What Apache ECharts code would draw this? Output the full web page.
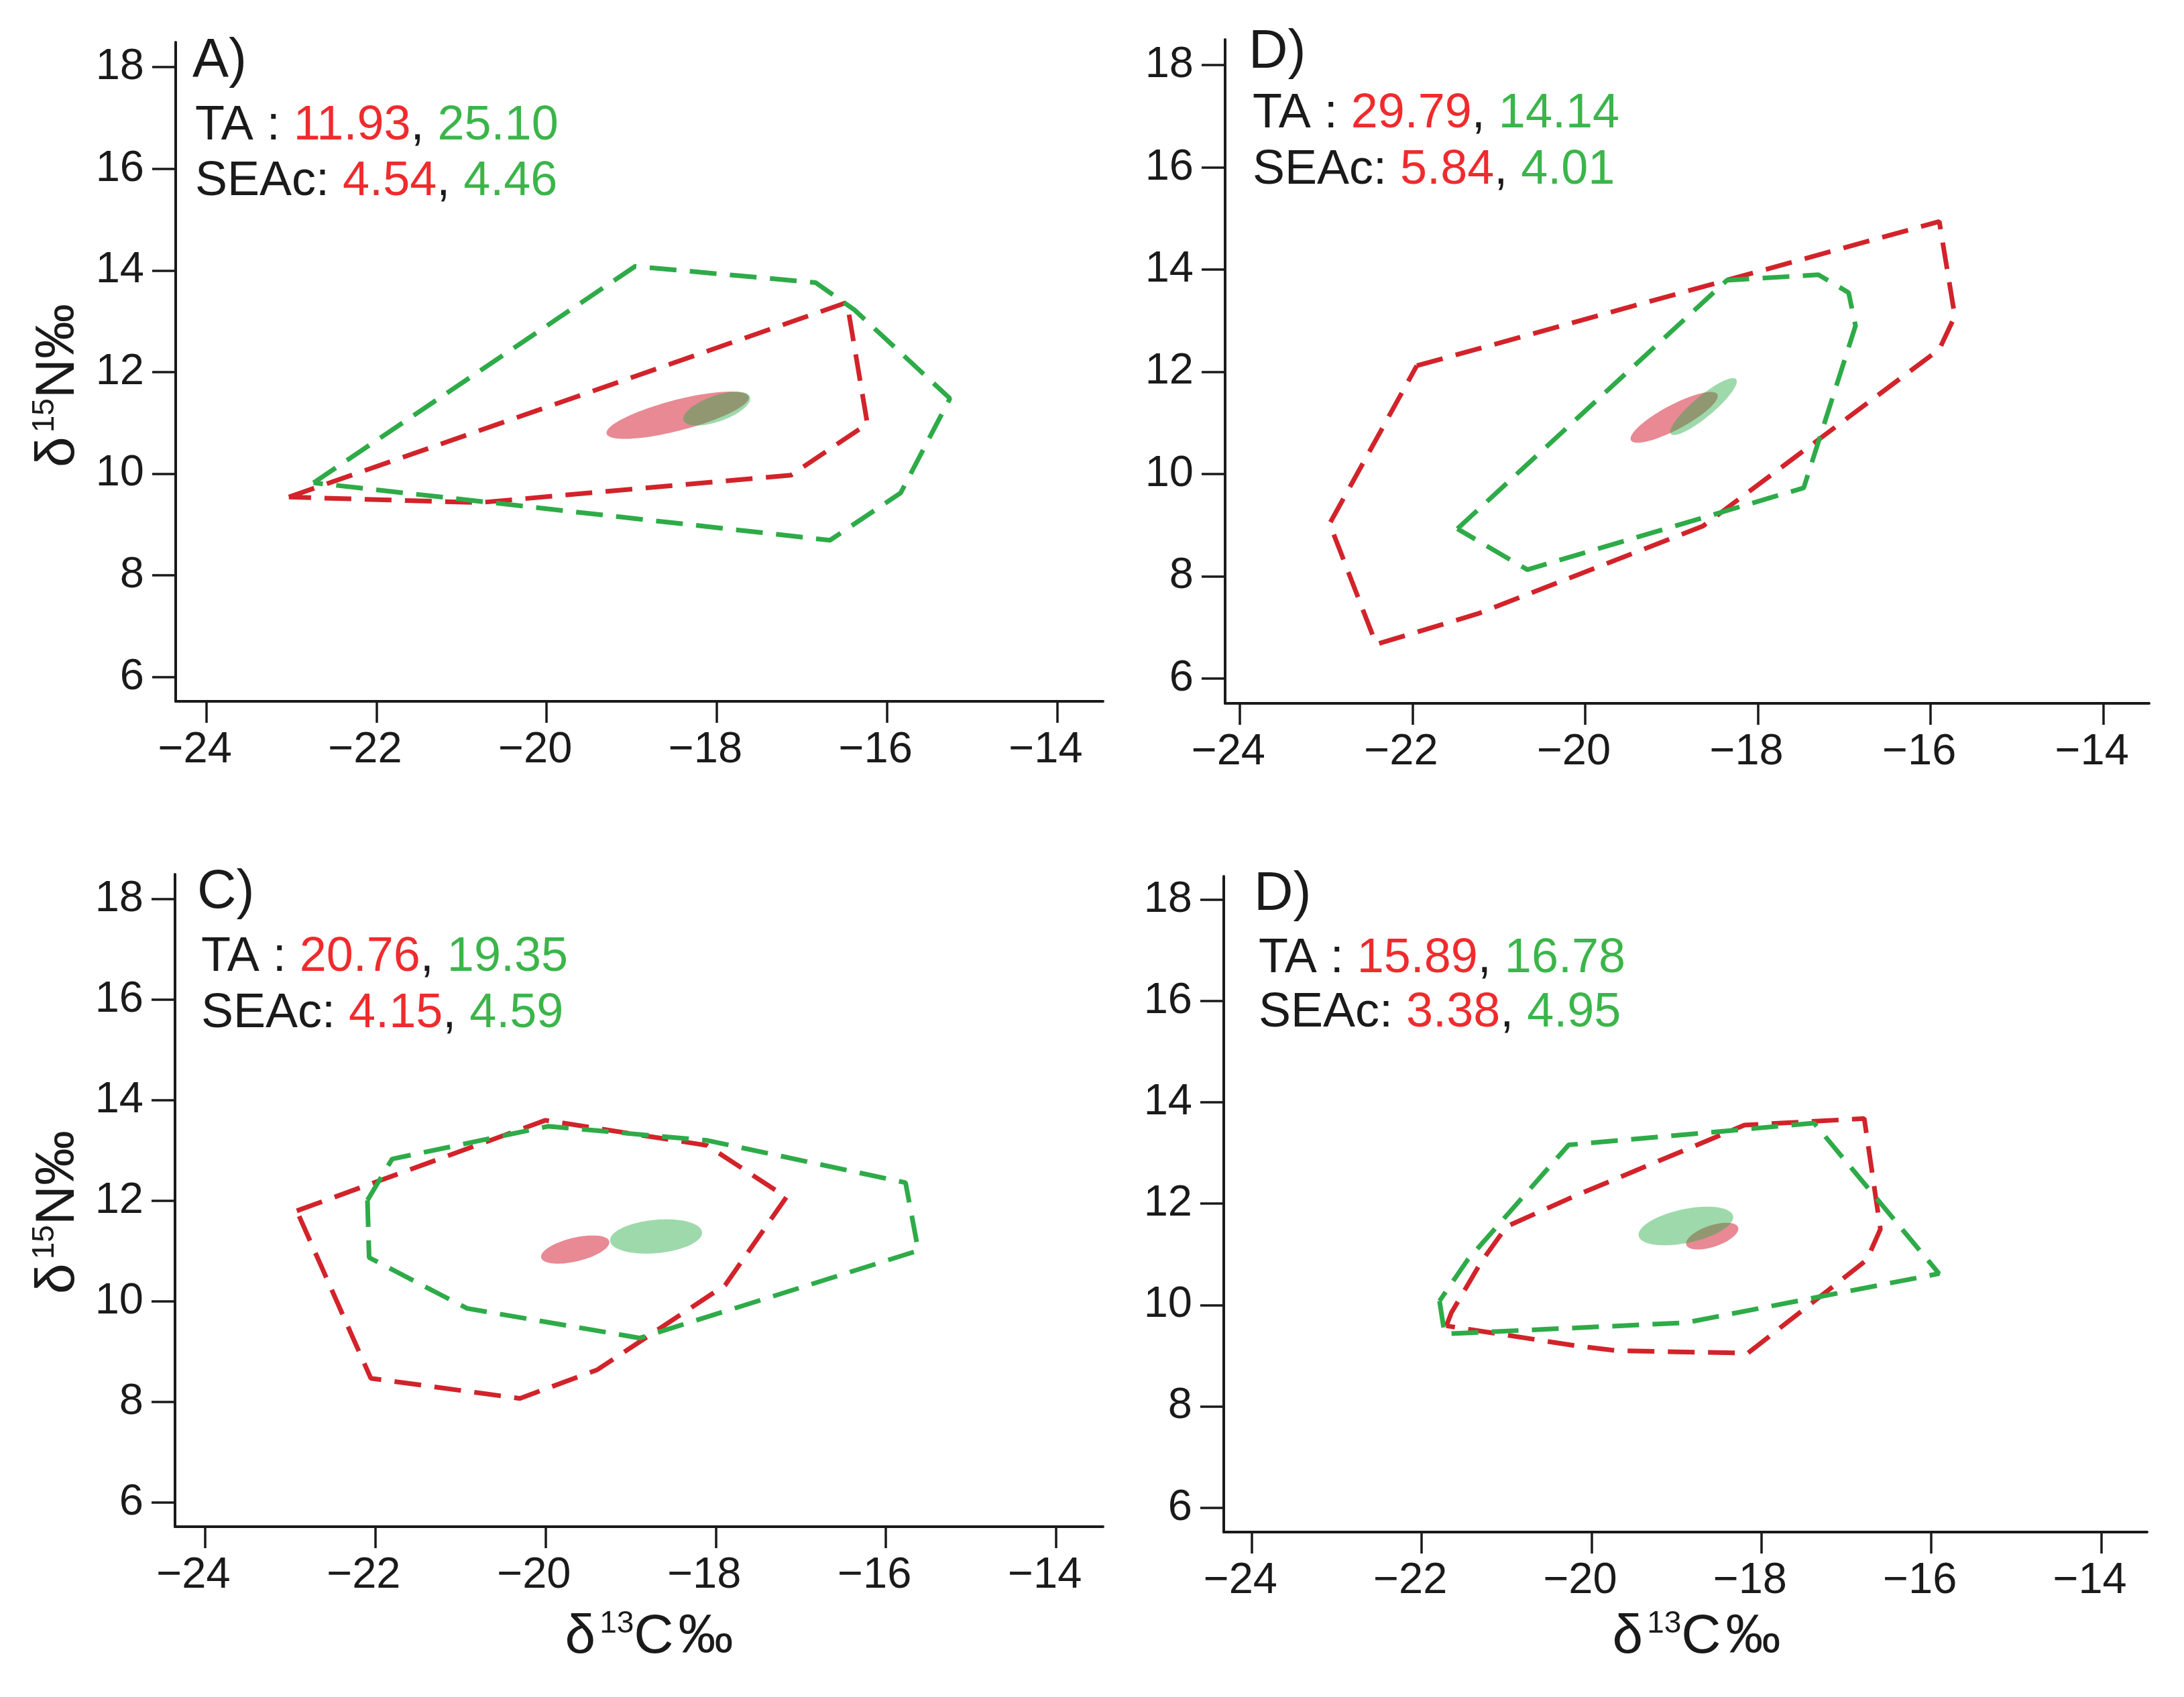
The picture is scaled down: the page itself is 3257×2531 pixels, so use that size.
<!DOCTYPE html>
<html>
<head>
<meta charset="utf-8">
<script src="https://cdn.jsdelivr.net/npm/echarts@6.0.0/dist/echarts.min.js"></script>
<style>
html,body{margin:0;padding:0;background:#fff;}
#c{width:3257px;height:2531px;}
</style>
</head>
<body>
<div id="c"></div>
<script>
// ---------------- data ----------------
const xTicks = [-24, -22, -20, -18, -16, -14];
const yTicks = [6, 8, 10, 12, 14, 16, 18];
const panelLetters = ['A)', 'D)', 'C)', 'D)'];
const taRed = ['11.93', '29.79', '20.76', '15.89'];
const taGreen = ['25.10', '14.14', '19.35', '16.78'];
const seacRed = ['4.54', '5.84', '4.15', '3.38'];
const seacGreen = ['4.46', '4.01', '4.59', '4.95'];

// convex hulls (TA) [d13C, d15N]
const hullRedA = [[-23.03, 9.54], [-16.47, 13.37], [-16.23, 10.98], [-17.13, 9.97], [-20.79, 9.43]];
const hullGreenA = [[-22.74, 9.82], [-18.96, 14.08], [-16.84, 13.76], [-16.38, 13.22], [-15.26, 11.48], [-15.84, 9.62], [-16.67, 8.69]];
const hullRedD1 = [[-21.95, 12.12], [-15.9, 14.94], [-15.72, 13.09], [-15.9, 12.44], [-18.64, 8.98], [-21.24, 7.27], [-22.42, 6.67], [-22.96, 9.03]];
const hullGreenD1 = [[-21.48, 8.93], [-18.36, 13.79], [-17.3, 13.9], [-16.95, 13.55], [-16.87, 12.9], [-17.47, 9.73], [-20.67, 8.13]];
const hullRedC = [[-22.92, 11.8], [-20.0, 13.6], [-18.1, 13.1], [-17.17, 12.07], [-17.89, 10.32], [-19.39, 8.64], [-20.3, 8.07], [-22.05, 8.47]];
const hullGreenC = [[-22.09, 12.01], [-21.8, 12.83], [-19.97, 13.48], [-18.1, 13.2], [-15.77, 12.36], [-15.62, 11.01], [-18.89, 9.27], [-20.92, 9.86], [-22.07, 10.87]];
const hullRedD2 = [[-21.71, 9.59], [-21.65, 9.85], [-21.3, 10.85], [-21.0, 11.55], [-20.2, 12.15], [-18.2, 13.55], [-16.79, 13.68], [-16.6, 11.5], [-16.76, 10.89], [-18.16, 9.05], [-19.7, 9.1], [-20.2, 9.2]];
const hullGreenD2 = [[-21.79, 10.08], [-21.73, 9.43], [-18.9, 9.65], [-15.91, 10.62], [-17.38, 13.59], [-20.27, 13.16], [-21.46, 10.89]];

// standard ellipses (SEAc): [centre C, centre N, semi-axis 1 (dC, dN), semi-axis 2 (dC, dN)]
const ellRedA = [-18.46, 11.15, 0.835, 0.364, 0.05, -0.29];
const ellGreenA = [-18.0, 11.28, 0.39, 0.23, 0.05, -0.24];
const ellRedD1 = [-18.97, 11.11, 0.50, 0.45, 0.07, -0.21];
const ellGreenD1 = [-18.63, 11.32, 0.377, 0.536, 0.08, -0.15];
const ellRedC = [-19.65, 11.03, 0.40, 0.16, 0.03, -0.23];
const ellGreenC = [-18.70, 11.29, 0.54, 0.087, 0.02, -0.33];
const ellRedD2 = [-18.58, 11.36, 0.305, 0.173, 0.04, -0.2];
const ellGreenD2 = [-18.89, 11.56, 0.556, 0.19, 0.03, -0.33];

// ---------------- layout / style ----------------
const FONT = '"Liberation Sans", Arial, Helvetica, sans-serif';
const INK = '#1a1a1a';
const RED_LINE = '#d2232a';
const GREEN_LINE = '#2eab48';
const RED_TXT = '#ef2b2d';
const GREEN_TXT = '#3bb54a';
const RED_FILL = 'rgba(214,40,60,0.55)';
const GREEN_FILL = 'rgba(40,170,70,0.45)';
const DASH = [40, 20];

const panels = [
  {grid: {left: 262, top: 63, width: 1383, height: 983}, x: [-24.36, -13.46], y: [5.52, 18.49],
   letter: [287, 92], ta: [291, 188], seac: [291, 271],
   red: hullRedA, green: hullGreenA, er: ellRedA, eg: ellGreenA},
  {grid: {left: 1827, top: 59, width: 1378, height: 990}, x: [-24.17, -13.47], y: [5.515, 18.5],
   letter: [1862, 79], ta: [1868, 170], seac: [1868, 254],
   red: hullRedD1, green: hullGreenD1, er: ellRedD1, eg: ellGreenD1},
  {grid: {left: 261, top: 1304, width: 1384, height: 973}, x: [-24.35, -13.45], y: [5.52, 18.49],
   letter: [294, 1332], ta: [300, 1428], seac: [300, 1512],
   red: hullRedC, green: hullGreenC, er: ellRedC, eg: ellGreenC},
  {grid: {left: 1825, top: 1307, width: 1377, height: 978}, x: [-24.33, -13.46], y: [5.52, 18.46],
   letter: [1870, 1335], ta: [1877, 1430], seac: [1877, 1511],
   red: hullRedD2, green: hullGreenD2, er: ellRedD2, eg: ellGreenD2}
];

const minus = v => String(v).replace('-', '\u2212');
const closed = arr => arr.concat([arr[0]]);

function ellipseRenderer(fill) {
  return function (params, api) {
    const cx = api.value(0), cy = api.value(1);
    const ux = api.value(2), uy = api.value(3), vx = api.value(4), vy = api.value(5);
    const pts = [];
    const n = 90;
    for (let k = 0; k < n; k++) {
      const t = 2 * Math.PI * k / n;
      const c = Math.cos(t), s = Math.sin(t);
      pts.push(api.coord([cx + ux * c + vx * s, cy + uy * c + vy * s]));
    }
    return {type: 'polygon', shape: {points: pts}, style: {fill: fill, stroke: null}};
  };
}

const grids = [], xAxes = [], yAxes = [], series = [], graphics = [];

panels.forEach((p, i) => {
  grids.push(Object.assign({containLabel: false, outerBoundsMode: 'none'}, p.grid));
  xAxes.push({
    type: 'value', gridIndex: i, min: p.x[0], max: p.x[1],
    axisLine: {show: true, onZero: false, lineStyle: {color: INK, width: 4}},
    axisTick: {show: true, length: 32, customValues: xTicks, lineStyle: {color: INK, width: 3.5}},
    axisLabel: {show: true, customValues: xTicks, formatter: minus, fontSize: 65, fontFamily: FONT,
                color: INK, margin: 41, padding: [0, 34, 0, 0]},
    splitLine: {show: false}
  });
  yAxes.push({
    type: 'value', gridIndex: i, min: p.y[0], max: p.y[1],
    axisLine: {show: true, onZero: false, lineStyle: {color: INK, width: 4}},
    axisTick: {show: true, length: 35, customValues: yTicks, lineStyle: {color: INK, width: 3.5}},
    axisLabel: {show: true, customValues: yTicks, fontSize: 65, fontFamily: FONT, color: INK, margin: 47},
    splitLine: {show: false}
  });
  series.push({
    type: 'line', xAxisIndex: i, yAxisIndex: i, data: closed(p.red), symbol: 'none', clip: false,
    lineStyle: {color: RED_LINE, width: 7, type: DASH}, silent: true, z: 2
  });
  series.push({
    type: 'line', xAxisIndex: i, yAxisIndex: i, data: closed(p.green), symbol: 'none', clip: false,
    lineStyle: {color: GREEN_LINE, width: 7, type: DASH}, silent: true, z: 2
  });
  series.push({
    type: 'custom', xAxisIndex: i, yAxisIndex: i, data: [p.er], encode: {x: 0, y: 1},
    renderItem: ellipseRenderer(RED_FILL), silent: true, z: 3
  });
  series.push({
    type: 'custom', xAxisIndex: i, yAxisIndex: i, data: [p.eg], encode: {x: 0, y: 1},
    renderItem: ellipseRenderer(GREEN_FILL), silent: true, z: 3
  });

  const richStats = {
    k: {fill: INK, fontSize: 72, fontFamily: FONT},
    r: {fill: RED_TXT, fontSize: 72, fontFamily: FONT},
    g: {fill: GREEN_TXT, fontSize: 72, fontFamily: FONT}
  };
  graphics.push({
    type: 'text', x: p.letter[0], y: p.letter[1], silent: true,
    style: {text: panelLetters[i], fill: INK, fontSize: 81, fontFamily: FONT,
            align: 'left', verticalAlign: 'middle', textAlign: 'left', textVerticalAlign: 'middle'}
  });
  graphics.push({
    type: 'text', x: p.ta[0], y: p.ta[1], silent: true,
    style: {text: '{k|TA : }{r|' + taRed[i] + '}{k|, }{g|' + taGreen[i] + '}', rich: richStats,
            fontSize: 72, fontFamily: FONT,
            align: 'left', verticalAlign: 'middle', textAlign: 'left', textVerticalAlign: 'middle'}
  });
  graphics.push({
    type: 'text', x: p.seac[0], y: p.seac[1], silent: true,
    style: {text: '{k|SEAc: }{r|' + seacRed[i] + '}{k|, }{g|' + seacGreen[i] + '}', rich: richStats,
            fontSize: 72, fontFamily: FONT,
            align: 'left', verticalAlign: 'middle', textAlign: 'left', textVerticalAlign: 'middle'}
  });
});

const titleRich = {
  m: {fill: INK, fontSize: 82, fontFamily: FONT, lineHeight: 86, verticalAlign: 'middle'},
  s: {fill: INK, fontSize: 46, fontFamily: FONT, lineHeight: 42, verticalAlign: 'top', padding: [0, 0, 0, 6]}
};
const yTitle = '{m|\u03b4}{s|15}{m|N\u2030}';
const xTitle = '{m|\u03b4}{s|13}{m|C\u200a\u2030}';
[[87, 575], [87, 1808]].forEach(pos => {
  graphics.push({
    type: 'text', x: pos[0], y: pos[1], rotation: Math.PI / 2, silent: true,
    style: {text: yTitle, rich: titleRich, fontSize: 82, fontFamily: FONT,
            align: 'center', verticalAlign: 'middle', textAlign: 'center', textVerticalAlign: 'middle'}
  });
});
[[968, 2442], [2530, 2442]].forEach(pos => {
  graphics.push({
    type: 'text', x: pos[0], y: pos[1], silent: true,
    style: {text: xTitle, rich: titleRich, fontSize: 82, fontFamily: FONT,
            align: 'center', verticalAlign: 'middle', textAlign: 'center', textVerticalAlign: 'middle'}
  });
});

const chart = echarts.init(document.getElementById('c'), null, {renderer: 'canvas'});
chart.setOption({
  backgroundColor: '#ffffff',
  animation: false,
  grid: grids,
  xAxis: xAxes,
  yAxis: yAxes,
  series: series,
  graphic: graphics
});
</script>
</body>
</html>
